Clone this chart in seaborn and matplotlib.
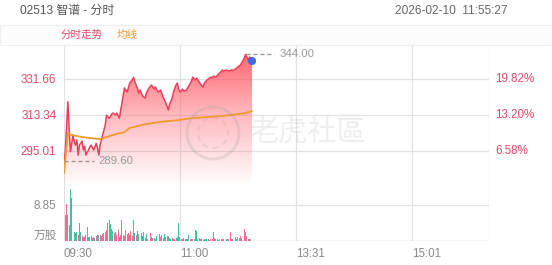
import numpy as np
import pandas as pd
import matplotlib
matplotlib.use("Agg")
import matplotlib.pyplot as plt
import seaborn as sns
from matplotlib.colors import LinearSegmentedColormap
from matplotlib.patches import Circle, Rectangle
from matplotlib.transforms import IdentityTransform

# ---------------- data ----------------
title_left = "02513 智谱 - 分时"
title_right = "2026-02-10  11:55:27"
legend_labels = ["分时走势", "均线"]
pre_close = 276.80
price_ticks = [295.01, 313.34, 331.66]
pct_labels = ["6.58%", "13.20%", "19.82%"]
vol_tick = 8.85
vol_unit = "万股"
time_tick_pos = [0, 90, 180, 270]
time_tick_labels = ["09:30", "11:00", "13:31", "15:01"]
high_price = 344.00
low_price = 289.60

price_minutes = [0, 1, 3, 4, 5, 7, 8, 9, 10, 11, 12, 14, 15, 16, 17, 19, 20, 21, 23, 24,
                 25, 26, 27, 28, 29, 30, 32, 33, 35, 36, 37, 38, 40, 41, 43, 45, 46, 47, 49, 50,
                 51, 53, 54, 55, 57, 58, 59, 61, 63, 64, 66, 68, 70, 71, 73, 75, 77, 78, 80, 81,
                 82, 84, 85, 87, 88, 89, 90, 92, 93, 95, 97, 99, 100, 102, 103, 105, 106, 108, 109, 111,
                 113, 114, 115, 116, 118, 120, 121, 123, 124, 126, 128, 130, 132, 134, 135, 137, 138, 140, 141, 142,
                 143, 144, 145, 146]
price_values = [289.6, 294.5, 319.9, 305.5, 294.4, 303.0, 299.3, 297.8, 300.4, 292.7, 297.8, 299.8, 295.3, 297.3, 292.7, 295.3, 296.8, 297.8, 295.3, 296.8,
                298.8, 296.3, 292.7, 297.8, 300.4, 302.9, 308.0, 313.0, 311.5, 312.0, 313.6, 314.1, 313.1, 314.1, 311.5, 319.2, 323.3, 326.9, 324.8, 326.9,
                329.4, 331.0, 332.3, 329.9, 326.9, 324.3, 325.8, 322.8, 321.7, 324.3, 326.9, 328.4, 326.3, 327.4, 324.8, 325.8, 322.2, 320.7, 317.6, 315.6,
                318.6, 321.7, 324.8, 328.4, 329.4, 326.3, 324.8, 326.3, 325.3, 325.8, 327.9, 330.4, 332.4, 330.9, 331.9, 329.9, 328.8, 327.3, 329.4, 330.9,
                331.9, 332.4, 331.9, 332.9, 332.4, 334.0, 334.5, 336.0, 335.5, 336.0, 335.5, 336.0, 336.0, 337.0, 337.5, 338.6, 339.6, 342.1, 344.0, 342.6,
                341.1, 342.6, 341.6, 340.6]

avg_minutes = [0, 3, 6, 15, 28, 35, 40, 47, 51, 63, 75, 89, 98, 110, 123, 140, 146]
avg_values = [283.5, 303.9, 302.9, 301.8, 300.8, 302.3, 303.3, 304.4, 306.5, 308.4, 309.6, 310.5, 311.4, 312.0, 312.6, 314.0, 315.1]

vol_minutes = list(range(0, 146))
vol_values = [4.8, 6.4, 9.1, 6.4, 4.0, 12.8, 10.6, 3.5, 2.3, 2.0, 2.1, 1.5, 4.4, 2.3, 1.2, 1.1, 1.0, 1.4, 3.5, 0.9,
              1.0, 1.3, 0.7, 1.1, 0.8, 1.2, 1.5, 1.4, 1.5, 1.2, 1.6, 2.0, 2.2, 2.7, 4.4, 5.2, 4.2, 3.0, 2.5, 2.0,
              2.2, 1.5, 2.6, 1.0, 1.4, 5.2, 1.5, 1.2, 2.7, 1.8, 2.0, 1.5, 2.5, 1.2, 5.2, 2.0, 1.4, 2.5, 1.6, 1.0,
              2.0, 1.2, 2.1, 0.8, 1.8, 0.6, 0.9, 2.0, 1.0, 0.7, 0.8, 0.6, 1.2, 0.7, 1.7, 1.0, 1.5, 0.8, 1.6, 0.9,
              1.2, 1.3, 0.8, 0.6, 0.8, 0.5, 0.6, 0.7, 0.9, 4.3, 1.0, 0.6, 0.5, 0.7, 0.4, 0.6, 0.5, 1.5, 0.6, 0.4,
              0.5, 0.6, 2.7, 2.5, 0.5, 0.8, 0.4, 0.5, 0.3, 0.5, 0.4, 0.6, 0.5, 0.3, 0.4, 0.5, 2.3, 0.7, 0.4, 0.5,
              0.3, 0.5, 0.4, 0.6, 0.5, 3.4, 0.5, 0.6, 0.4, 2.2, 0.5, 0.4, 0.6, 1.0, 0.6, 1.0, 0.8, 1.2, 0.7, 1.0,
              3.0, 2.2, 1.2, 0.6, 0.5, 0.5]
vol_dirs = ["r", "r", "r", "r", "r", "g", "g", "g", "g", "r", "g", "r", "g", "g", "r", "g", "r", "g", "r", "g",
            "r", "g", "r", "g", "g", "r", "g", "g", "r", "g", "r", "g", "r", "r", "r", "r", "g", "r", "g", "r",
            "g", "r", "r", "g", "r", "r", "g", "r", "r", "g", "r", "g", "r", "r", "r", "g", "r", "g", "g", "r",
            "r", "g", "g", "r", "g", "r", "r", "r", "g", "r", "g", "r", "g", "r", "g", "r", "g", "r", "g", "r",
            "g", "g", "r", "g", "r", "g", "r", "g", "g", "g", "r", "g", "r", "g", "r", "g", "g", "g", "r", "g",
            "r", "g", "r", "g", "r", "g", "r", "g", "r", "g", "r", "g", "r", "r", "r", "r", "r", "r", "g", "r",
            "g", "r", "g", "r", "r", "r", "g", "r", "r", "r", "g", "r", "g", "r", "g", "r", "g", "r", "g", "r",
            "r", "g", "r", "r", "g", "r"]

# ---------------- style ----------------
sns.set_theme(style="white")
plt.rcParams['font.family'] = ['Liberation Sans', 'Noto Sans CJK SC', 'DejaVu Sans']

RED = "#ec3f5c"
ORANGE = "#f39a2e"
VRED = "#f4557a"
VGREEN = "#22b39a"
GRID = "#e2e2e2"
LABEL_RED = "#e8486a"
GRAY = "#8a8a8a"

W, H = 552, 265
fig = plt.figure(figsize=(W / 100, H / 100), dpi=100)

def fx(x):
    return x / W

def fy(y):
    return 1 - y / H

L, R = 64, 489
TOP, MID, BOT = 45, 186.3, 241
ax = fig.add_axes([fx(L), fy(MID), fx(R - L), (MID - TOP) / H])
axv = fig.add_axes([fx(L), fy(BOT), fx(R - L), (BOT - MID) / H])

XMAX = 330
pmin, pmax = pre_close, pre_close + (MID - TOP) / 1.964
ax.set_xlim(0, XMAX)
ax.set_ylim(pmin, pmax)
axv.set_xlim(0, XMAX)
axv.set_ylim(0, (BOT - MID) / 4.07)

for a in (ax, axv):
    for s in a.spines.values():
        s.set_visible(False)
    a.set_facecolor("none")

# header band
fig.patches.append(Rectangle((0, fy(45)), 1, 20 / H, transform=fig.transFigure,
                             facecolor="#fcfcfc", edgecolor="#efefef", lw=0.8, zorder=0))
fig.text(fx(20), fy(11), title_left, fontsize=8.6, color="#555555", va="center", ha="left",
         family=['Liberation Sans', 'Noto Sans CJK SC'])
fig.text(fx(508), fy(11), title_right, fontsize=8.6, color="#666666", va="center", ha="right")
fig.text(fx(61), fy(35), legend_labels[0], fontsize=7.6, color=LABEL_RED, va="center", ha="left",
         family=['Noto Sans CJK SC'])
fig.text(fx(117), fy(35), legend_labels[1], fontsize=7.6, color=ORANGE, va="center", ha="left",
         family=['Noto Sans CJK SC'])

# grid lines
for xv in [0, 90, 180, 270, XMAX]:
    ax.axvline(xv, color=GRID, lw=0.9, zorder=0.5)
    axv.axvline(xv, color=GRID, lw=0.9, zorder=0.5)
for yv in price_ticks:
    ax.axhline(yv, color=GRID, lw=0.9, zorder=0.5)
axv.axhline(vol_tick, color=GRID, lw=0.9, zorder=0.5)
axv.axhline(0, color="#d6d6d6", lw=1.0, zorder=0.5)

# watermark
fig.add_artist(Circle((213, H - 133), 26, transform=IdentityTransform(), fill=False,
                      edgecolor=(0.6, 0.6, 0.6, 0.22), lw=2.0, zorder=5))
fig.add_artist(Circle((213, H - 133), 15, transform=IdentityTransform(), fill=False,
                      edgecolor=(0.6, 0.6, 0.6, 0.18), lw=1.5, ls=(0, (3, 2)), zorder=5))
fig.text(fx(249), fy(133), "老虎社區", fontsize=21, color=(0.6, 0.6, 0.6, 0.16), va="center", ha="left",
         family=['Noto Sans CJK TC'], zorder=5)

# price fill with gradient
poly = ax.fill_between(price_minutes, price_values, pmin, facecolor="none", edgecolor="none")
cmap = LinearSegmentedColormap.from_list("g", [(1, 0.35, 0.40, 0.0), (1, 0.35, 0.40, 0.42), (1, 0.32, 0.37, 0.95)])
grad = np.linspace(0, 1, 256).reshape(-1, 1)
im = ax.imshow(grad, extent=[0, max(price_minutes), pmin, pmax], aspect="auto", origin="lower",
               cmap=cmap, zorder=1, interpolation="bilinear")
im.set_clip_path(poly.get_paths()[0], transform=ax.transData)

df_p = pd.DataFrame({"minute": price_minutes, "price": price_values})
df_a = pd.DataFrame({"minute": avg_minutes, "avg": avg_values})
sns.lineplot(data=df_p, x="minute", y="price", ax=ax, color=RED, lw=1.1, estimator=None, zorder=3)
sns.lineplot(data=df_a, x="minute", y="avg", ax=ax, color=ORANGE, lw=1.3, estimator=None, zorder=3)
ax.scatter([price_minutes[-1]], [price_values[-1]], s=34, color="#4169e1", zorder=6, edgecolor="none")

# high / low markers
hi_i = price_values.index(high_price)
lo_i = price_values.index(low_price)
ax.plot([price_minutes[hi_i], price_minutes[hi_i] + 22], [high_price, high_price], color="#999999",
        lw=1.0, ls=(0, (3, 2)), zorder=4)
ax.text(price_minutes[hi_i] + 26, high_price, f"{high_price:.2f}", color="#999999", fontsize=8.2,
        va="center", ha="left", zorder=6)
ax.plot([price_minutes[lo_i], price_minutes[lo_i] + 23], [low_price, low_price], color="#999999",
        lw=1.0, ls=(0, (3, 2)), zorder=4)
ax.text(price_minutes[lo_i] + 26.5, low_price, f"{low_price:.2f}", color="#999999", fontsize=8.2,
        va="center", ha="left", zorder=6)

# volume bars
vcolors = [VRED if d == "r" else VGREEN for d in vol_dirs]
axv.bar(vol_minutes, vol_values, width=0.75, color=vcolors, alpha=0.85, zorder=2, linewidth=0)

# ticks / labels
ax.set_xticks([])
ax.set_yticks(price_ticks)
ax.set_yticklabels([f"{v:.2f}" for v in price_ticks], color=LABEL_RED, fontsize=8.4)
ax.tick_params(axis="y", length=0, pad=5.5)
ax.set_xlabel("")
ax.set_ylabel("")
for v, lab in zip(price_ticks, pct_labels):
    ax.text(1 + 6 / (R - L), v, lab, transform=ax.get_yaxis_transform(), color=LABEL_RED,
            fontsize=8.4, va="center", ha="left")

axv.set_yticks([vol_tick])
axv.set_yticklabels([f"{vol_tick:.2f}"], color=GRAY, fontsize=8.4)
axv.tick_params(axis="y", length=0, pad=5.5)
axv.text(-7 / (R - L), (BOT - 235.7) / 4.07, vol_unit, transform=axv.get_yaxis_transform(),
         color=GRAY, fontsize=8.4, va="center", ha="right", family=['Noto Sans CJK SC'])
axv.set_xticks(time_tick_pos)
axv.set_xticklabels(time_tick_labels, color=GRAY, fontsize=8.4)
for t in axv.get_xticklabels():
    t.set_horizontalalignment("left")
axv.tick_params(axis="x", length=0, pad=5)
axv.set_xlabel("")
axv.set_ylabel("")

fig.savefig("out.png", dpi=100)
